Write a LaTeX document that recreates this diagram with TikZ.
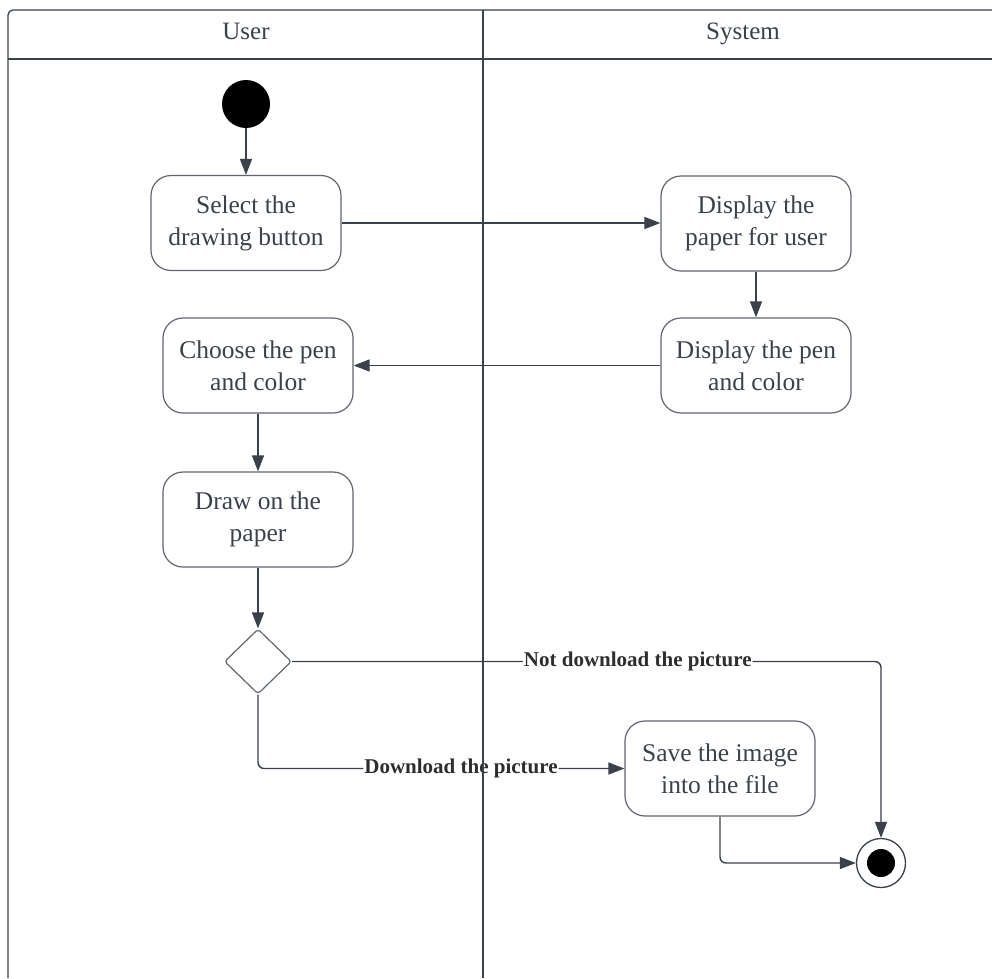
\documentclass[tikz,border=0pt]{standalone}
\usepackage{fontspec}
\setmainfont{Liberation Serif}
\usetikzlibrary{arrows.meta,shapes.geometric}
\definecolor{ink}{HTML}{3A414A}
\definecolor{edge}{HTML}{60666E}
\definecolor{labelink}{HTML}{2E2E2E}

\begin{document}
\begin{tikzpicture}[x=1pt,y=-1pt,
  act/.style={draw=edge, line width=1.2pt, rounded corners=20pt,
    minimum width=190pt, minimum height=95pt, align=center, inner sep=0pt,
    text=ink, font=\fontsize{25.5}{32}\selectfont},
  flow/.style={draw=ink, line width=1.4pt, -{Triangle[length=16pt,width=12pt]}},
  lane/.style={draw=ink, line width=1.3pt},
  lbl/.style={font=\bfseries\fontsize{21}{24}\selectfont, text=labelink,
    fill=white, inner sep=1pt},
  head/.style={font=\fontsize{25}{30}\selectfont, text=ink, anchor=base}]

\useasboundingbox (0,0) rectangle (992,978);

% lane headings
\node[head] (huser) at (246,39) {User};
\node[head] (hsys) at (743,39) {System};

% start node
\node[circle, fill=black, minimum size=48pt, inner sep=0pt] (start) at (246,104) {};

% activities
\node[act] (sel)    at (246,223)   {Select the\\drawing button};
\node[act] (disp)   at (756,223.5) {Display the\\paper for user};
\node[act] (pen)    at (756,365.5) {Display the pen\\and color};
\node[act] (choose) at (258,365.5) {Choose the pen\\and color};
\node[act] (drw)    at (258,519.5) {Draw on the\\paper};
\node[act] (save)   at (720,768.5) {Save the image\\into the file};

% decision
\node[diamond, draw=edge, line width=1.2pt, minimum width=67pt, minimum height=65pt,
      inner sep=0pt, rounded corners=3pt] (dec) at (258,661.5) {};

% final node
\node[circle, draw=ink, line width=1.3pt, minimum size=49pt, inner sep=0pt] (fin) at (881,863) {};
\node[circle, fill=black, minimum size=28pt, inner sep=0pt] (fincore) at (fin.center) {};

% control flow
\draw[flow] (start) -- (sel);
\draw[flow] (sel.east) -- (sel.east -| disp.west);
\draw[flow] (disp) -- (pen);
\draw[flow] (pen.west) -- (choose.east);
\draw[flow] (choose) -- (drw);
\draw[flow] (drw) -- (dec);
\coordinate (turnA) at (fin.north |- dec.east);
\draw[flow, rounded corners=6pt] (dec.east) -- node[lbl, pos=0.587] {Not download the picture} (turnA) -- (fin.north);
\coordinate (turnB) at (dec.south |- save.west);
\draw[flow, rounded corners=6pt] (dec.south) -- (turnB) -- node[lbl, pos=0.554] {Download the picture} (save.west);
\coordinate (turnC) at (save.south |- fin.west);
\draw[flow, rounded corners=6pt] (save.south) -- (turnC) -- (fin.west);

% swimlane frame
\draw[lane, rounded corners=5pt] (992,10) -- (8,10) -- (8,978);
\draw[lane] (8,59) -- (992,59);
\draw[lane] (483,10) -- (483,978);
\end{tikzpicture}
\end{document}
